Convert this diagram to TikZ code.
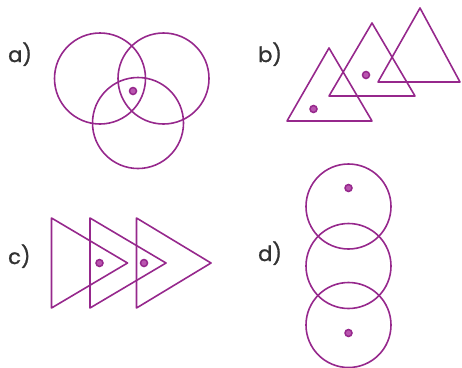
\documentclass[tikz,border=0pt]{standalone}
\usepackage{fontspec}
\setmainfont{Poppins}
\newfontfamily\labfont[FakeBold=1.2]{Poppins}
\definecolor{shape}{RGB}{150,40,140}
\definecolor{dotfill}{RGB}{185,85,175}
\definecolor{lbl}{RGB}{50,50,50}
\begin{document}
\begin{tikzpicture}[x=1pt,y=-1pt,
  outline/.style={draw=shape,line width=1.6pt,line join=round},
  marker/.style={draw=shape,fill=dotfill,line width=1.5pt},
  lab/.style={anchor=base west,inner sep=0pt,text=lbl,font=\labfont\fontsize{21}{24}\selectfont}]
\useasboundingbox (0,0) rectangle (462,367);
% labels
\node[lab] (la) at (8,62) {a)};
\node[lab] (lb) at (258,62) {b)};
\node[lab] (lc) at (8,264) {c)};
\node[lab] (ld) at (258,261) {d)};
% a) three circles
\draw[outline] (100,78.5) circle[radius=45.5];
\draw[outline] (163.5,78.5) circle[radius=45.5];
\draw[outline] (138,123) circle[radius=45.5];
\draw[marker] (133,91) circle[radius=3.5];
% b) three triangles
\draw[outline] (329,48) -- (372,121) -- (287,121) -- cycle;
\draw[outline] (372,23) -- (415,96) -- (329,96) -- cycle;
\draw[outline] (420,8) -- (460,82) -- (378,82) -- cycle;
\draw[marker] (313.5,109) circle[radius=3.5];
\draw[marker] (366,75) circle[radius=3.5];
% c) three triangles pointing right
\draw[outline] (51.5,218) -- (127.5,263) -- (51.5,308) -- cycle;
\draw[outline] (90,218) -- (166,263) -- (90,308) -- cycle;
\draw[outline] (136.5,218) -- (211,263) -- (136.5,308) -- cycle;
\draw[marker] (99.5,263) circle[radius=3.5];
\draw[marker] (144,263) circle[radius=3.5];
% d) three stacked circles
\draw[outline] (348.5,206.5) circle[radius=42.5];
\draw[outline] (348.5,266) circle[radius=42.5];
\draw[outline] (348.5,325) circle[radius=42.5];
\draw[marker] (348.5,188) circle[radius=3.5];
\draw[marker] (348.5,333) circle[radius=3.5];
\end{tikzpicture}
\end{document}
